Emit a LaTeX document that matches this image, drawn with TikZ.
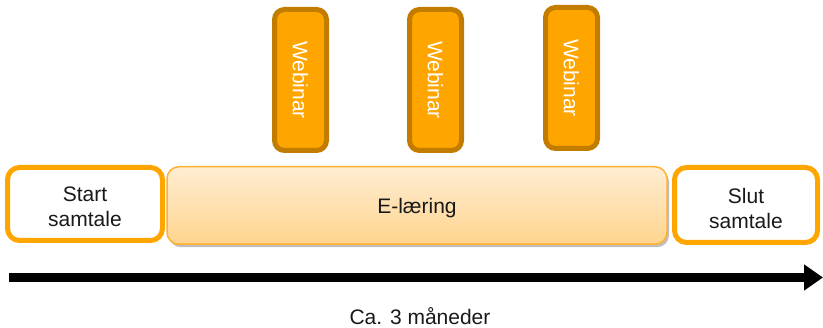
\documentclass[tikz,border=0pt]{standalone}
\usepackage{fontspec}
\setmainfont{Liberation Sans}
\usetikzlibrary{arrows.meta,shadows}
\definecolor{orng}{HTML}{FFA500}
\definecolor{webedge}{HTML}{C27C00}
\definecolor{elt}{HTML}{FFEDD3}
\definecolor{elb}{HTML}{FFD48E}
\definecolor{eledge}{HTML}{FFB02E}
\begin{document}
\begin{tikzpicture}[x=1pt,y=-1pt,
  every node/.style={font=\fontsize{21}{25}\selectfont, inner sep=0pt, align=center, text=black!90},
  endbox/.style={draw=orng, line width=5pt, fill=white, rounded corners=12pt},
  webbox/.style={draw=webedge, line width=5pt, fill=orng, rounded corners=10pt, rotate=-90, text=white, minimum width=141pt, minimum height=52pt},
  elbox/.style={draw=eledge, line width=1.5pt, top color=elt, bottom color=elb, rounded corners=12pt,
    drop shadow={shadow xshift=2pt, shadow yshift=-3pt, opacity=0.25, fill=black}},
  boxtext/.style={yshift=-3pt},
  timeline/.style={line width=9pt, -{Triangle[length=19pt,width=25pt]}}]
\useasboundingbox (0,0) rectangle (823,328);
\node[endbox, minimum width=155pt, minimum height=73pt] (start) at (85,204) {};
\node[boxtext] (starttxt) at (start) {Start\\samtale};
\node[elbox, minimum width=500pt, minimum height=77.5pt] (el) at (417,205.5) {};
\node[boxtext] (eltxt) at (el) {E-læring};
\node[endbox, minimum width=143pt, minimum height=75pt] (slut) at (746,205) {};
\node[boxtext] (sluttxt) at (slut) {Slut\\samtale};
\node[webbox] (w1) at (300.5,80) {Webinar};
\node[webbox] (w2) at (435.5,80) {Webinar};
\node[webbox] (w3) at (571.5,78) {Webinar};
\coordinate (t0) at (9,277.5);
\coordinate (t1) at (823,277.5);
\draw[timeline] (t0) -- (t1);
\node (lbl) at (420,316) {Ca. 3 måneder};
\end{tikzpicture}
\end{document}
